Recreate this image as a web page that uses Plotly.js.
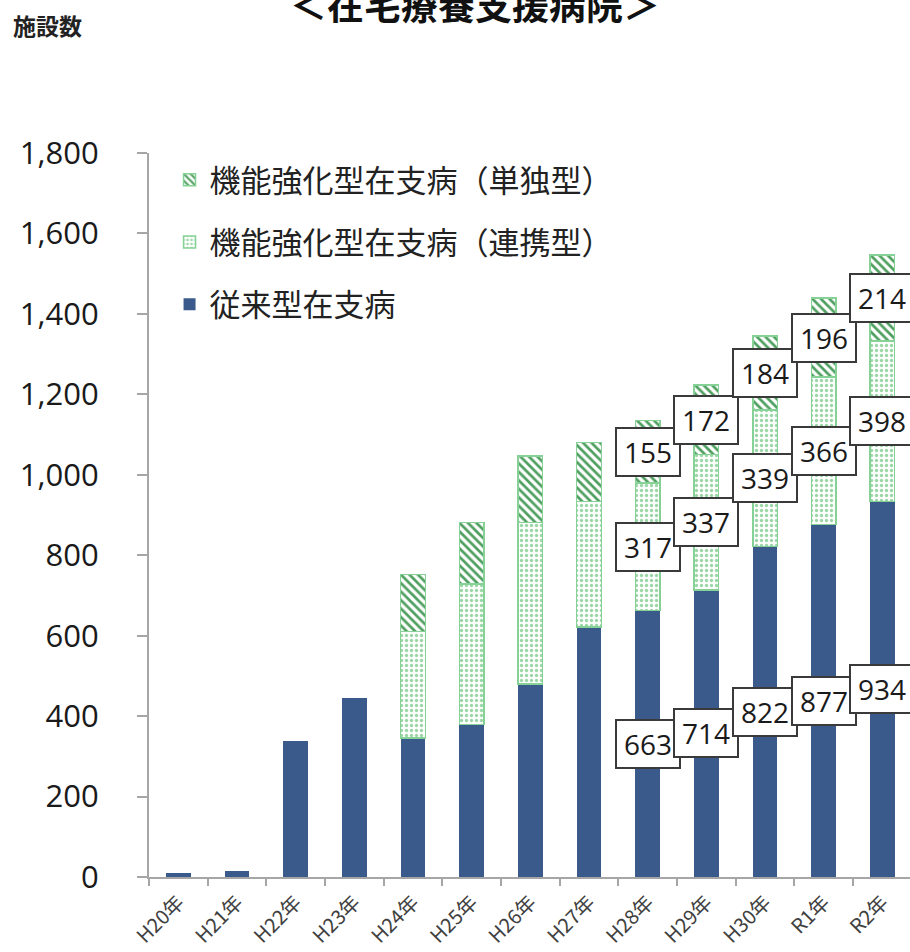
<!DOCTYPE html>
<html>
<head>
<meta charset="utf-8">
<script src="https://cdn.plot.ly/plotly-3.0.1.min.js"></script>
<style>html,body{margin:0;padding:0;background:#fff;overflow:hidden}</style>
</head>
<body>
<div id="chart" style="width:910px;height:952px"></div>
<script>
const categories = ['H20年','H21年','H22年','H23年','H24年','H25年','H26年','H27年','H28年','H29年','H30年','R1年','R2年'];
const conventional = [11, 15, 339, 446, 345, 379, 480, 622, 663, 714, 822, 877, 934];
const renkei = [null, null, null, null, 265, 350, 401, 311, 317, 337, 339, 366, 398];
const tandoku = [null, null, null, null, 142, 152, 166, 147, 155, 172, 184, 196, 214];
const seriesNames = ['従来型在支病', '機能強化型在支病（連携型）', '機能強化型在支病（単独型）'];
const labeledYears = ['H28年','H29年','H30年','R1年','R2年'];
const yTicks = [0, 200, 400, 600, 800, 1000, 1200, 1400, 1600, 1800];
const titleText = '＜在宅療養支援病院＞';
const yTitleText = '施設数';

const CJK = '"Noto Sans CJK JP", "Noto Sans", sans-serif';
const NUM = '"Open Sans", "Liberation Sans", sans-serif';
const barW = 0.42;

const traces = [
  {
    type: 'bar', name: seriesNames[0], x: categories, y: conventional, width: barW,
    legendgroup: 'a', legendrank: 3,
    marker: {color: '#3b5a8c', line: {width: 0}}
  },
  {
    type: 'bar', name: seriesNames[1], x: categories, y: renkei, width: barW,
    legendgroup: 'b', legendrank: 2,
    marker: {color: '#f4fbf5', line: {color: '#86d296', width: 1.5},
      pattern: {shape: '.', fgcolor: '#9ad6a6', size: 5, solidity: 0.35}}
  },
  {
    type: 'bar', name: seriesNames[2], x: categories, y: tandoku, width: barW,
    legendgroup: 'c', legendrank: 1,
    marker: {color: '#d3eed7', line: {color: '#86d296', width: 1.5},
      pattern: {shape: '\\', fgcolor: '#4f9f60', size: 6, solidity: 0.45}}
  }
];

const annotations = [];
labeledYears.forEach(function (yr) {
  const i = categories.indexOf(yr);
  const segs = [conventional[i], renkei[i], tandoku[i]];
  let base = 0;
  segs.forEach(function (v) {
    annotations.push({
      x: yr, y: base + v / 2, xref: 'x', yref: 'y',
      text: String(v), showarrow: false,
      font: {family: NUM, size: 28, color: '#1a1a1a'},
      bgcolor: '#ffffff', bordercolor: '#3a3a3a', borderwidth: 2,
      width: 60, height: 44, xanchor: 'center', yanchor: 'middle'
    });
    base += v;
  });
});

annotations.push({
  text: titleText, xref: 'paper', yref: 'paper', x: 0.428, y: 1.206,
  xanchor: 'center', yanchor: 'middle', showarrow: false,
  font: {family: CJK, size: 37, color: '#111', weight: 'bold'}
});
annotations.push({
  text: yTitleText, xref: 'paper', yref: 'paper', x: -0.133, y: 1.177,
  xanchor: 'center', yanchor: 'middle', showarrow: false,
  font: {family: CJK, size: 23, color: '#222', weight: 'bold'}
});

const layout = {
  width: 910, height: 952,
  margin: {l: 149, r: 0, t: 153, b: 75, pad: 0},
  barmode: 'stack',
  paper_bgcolor: '#fff', plot_bgcolor: '#fff',
  showlegend: true,
  legend: {
    x: 0.027, y: 1.0, xanchor: 'left', yanchor: 'top',
    traceorder: 'grouped', tracegroupgap: 19,
    font: {family: CJK, size: 31, color: '#222'},
    bgcolor: 'rgba(0,0,0,0)'
  },
  xaxis: {
    type: 'category', range: [-0.5, 12.47],
    showline: true, linecolor: '#a6a6a6', linewidth: 2,
    ticks: 'outside', tickson: 'boundaries', ticklen: 7, tickcolor: '#a6a6a6', tickwidth: 2,
    tickangle: -45, ticklabelstandoff: 4,
    tickfont: {family: CJK, size: 20, color: '#404040'},
    showgrid: false, zeroline: false, fixedrange: true
  },
  yaxis: {
    range: [0, 1800], tickvals: yTicks, tickformat: ',d',
    showline: true, linecolor: '#a6a6a6', linewidth: 2,
    ticks: 'outside', ticklen: 10, tickcolor: '#a6a6a6', tickwidth: 2,
    ticklabelstandoff: 32,
    tickfont: {family: NUM, size: 31, color: '#1a1a1a'},
    showgrid: false, zeroline: false, fixedrange: true
  },
  annotations: annotations
};

Plotly.newPlot('chart', traces, layout, {displayModeBar: false, staticPlot: true});
</script>
</body>
</html>
